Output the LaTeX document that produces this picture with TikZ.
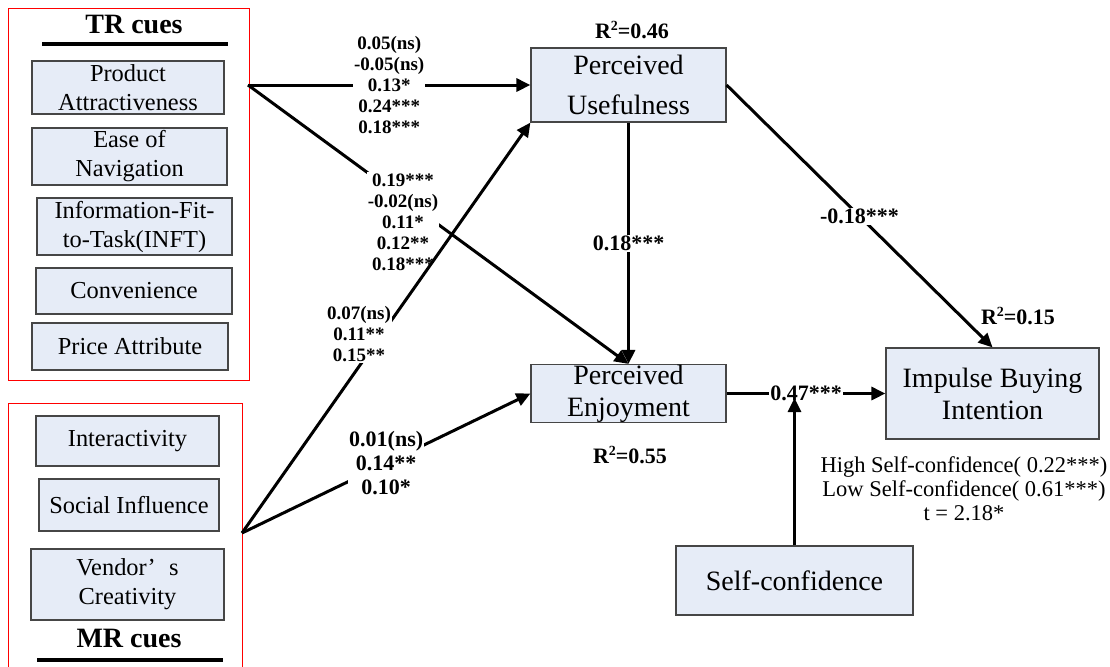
\documentclass[tikz,border=0pt]{standalone}
\usepackage{fontspec}
\setmainfont{Liberation Serif}
\usetikzlibrary{arrows.meta}
\definecolor{cuefill}{RGB}{230,236,247}
\definecolor{cueline}{RGB}{70,70,70}
\newcommand{\rsqsign}{R\raisebox{0.75ex}{\fontsize{7}{7}\selectfont 2}}

\begin{document}
\begin{tikzpicture}
[x=0.5pt,y=-0.5pt,
  cuedecorate/.style={shape=rectangle,draw=cueline,fill=cuefill,line width=0.6pt,
    inner sep=0pt,align=center,font=\fontsize{12.2}{14.5}\selectfont},
  constructdecorate/.style={cuedecorate,font=\fontsize{14}{16}\selectfont},
  framedecorate/.style={draw=red,line width=0.5pt},
  bardecorate/.style={line width=2pt},
  titledecorate/.style={anchor=base,font=\bfseries\fontsize{14}{16}\selectfont},
  arrowdecorate/.style={-{Triangle[length=7pt,width=6.5pt]},line width=1.5pt},
  coefdecorate/.style={fill=white,inner sep=0.6pt,align=center,
    font=\bfseries\fontsize{9.5}{10.5}\selectfont},
  bigcoefdecorate/.style={coefdecorate,font=\bfseries\fontsize{11}{12}\selectfont},
  rsqdecorate/.style={anchor=base,font=\bfseries\fontsize{11}{12}\selectfont}]
\useasboundingbox (0,0) rectangle (1110,666);
%% cue frames
\draw[framedecorate] (8,8) rectangle (249,380);
\draw[framedecorate] (8,672) |- (242,403) -- (242,672);
\node (trtitle) [titledecorate] at (134,33) {TR cues};
\node (mrtitle) [titledecorate] at (129,647) {MR cues};
\draw[bardecorate] (42,44) -- (228,44);
\draw[bardecorate] (37,660) -- (223,660);
%% nodes or vertices
\foreach \nodename/\x/\y/\w/\h/\txt in {
  pa/128/87.5/192/53/{Product\\Attractiveness},
  en/129.5/156.5/195/57/{Ease of\\Navigation},
  inft/134.5/226.5/195/57/{Information-Fit-\\to-Task(INFT)},
  conv/134/291/196/46/{Convenience},
  price/130/346.5/196/47/{Price Attribute},
  inter/127.5/441/183/50/{Interactivity},
  social/129/505/180/52/{Social Influence},
  vendor/127.5/584.5/193/71/{Vendor’\hspace{0.55em}s\\Creativity}} {
  \node (\nodename) at (\x,\y) [cuedecorate,minimum width=\w*0.5pt,
    minimum height=\h*0.5pt] {\txt};
}
\node (PU) at (628.5,85) [constructdecorate,font=\fontsize{14}{20}\selectfont,
  minimum width=97.5pt,minimum height=37pt] {Perceived\\Usefulness};
\node (PE) at (628.5,393.5) [constructdecorate,minimum width=97.5pt,
  minimum height=29pt] {Perceived\\Enjoyment};
\node (IBI) at (992.5,393.5) [constructdecorate,minimum width=106.5pt,
  minimum height=45.5pt] {Impulse Buying\\Intention};
\node (SC) at (794.5,580.5) [constructdecorate,minimum width=118.5pt,
  minimum height=34.5pt] {Self-confidence};
\coordinate (trout) at (248,85);
\coordinate (mrout) at (242,533);
\coordinate (modtip) at (794.5,398);
%% edges or lines
\draw[arrowdecorate] (trout) -- node[coefdecorate]
  {0.05(ns)\\-0.05(ns)\\0.13*\\0.24***\\0.18***} (PU.west);
\draw[arrowdecorate] (trout) -- (PE.north);
\node (trpecoef) [coefdecorate] at (403,222)
  {0.19***\\-0.02(ns)\\0.11*\\0.12**\\0.18***};
\draw[arrowdecorate] (mrout) -- (PU.south west);
\node (mrpucoef) [coefdecorate] at (359,334) {0.07(ns)\\0.11**\\0.15**};
\draw[arrowdecorate] (mrout) -- node[bigcoefdecorate]
  {0.01(ns)\\0.14**\\0.10*} (PE.west);
\path
\foreach \startnode/\endnode/\coefval in {PU.south/PE.north/{0.18***},
  PU.east/IBI.north/{-0.18***}, PE.east/IBI.west/{0.47***}} {
  (\startnode) edge[arrowdecorate] node[bigcoefdecorate] {\coefval} (\endnode)
};
\draw[arrowdecorate] (SC.north) -- (modtip);
%% explained variance and moderation
\node (rsqpu) [rsqdecorate] at (632,38) {\rsqsign=0.46};
\node (rsqpe) [rsqdecorate] at (630,463) {\rsqsign=0.55};
\node (rsqibi) [rsqdecorate] at (1018,324) {\rsqsign=0.15};
\node (scnote) [align=center,font=\fontsize{11.25}{12}\selectfont] at (964,489)
  {High Self-confidence( 0.22***)\\Low Self-confidence( 0.61***)\\t = 2.18*};
\end{tikzpicture}
\end{document}
